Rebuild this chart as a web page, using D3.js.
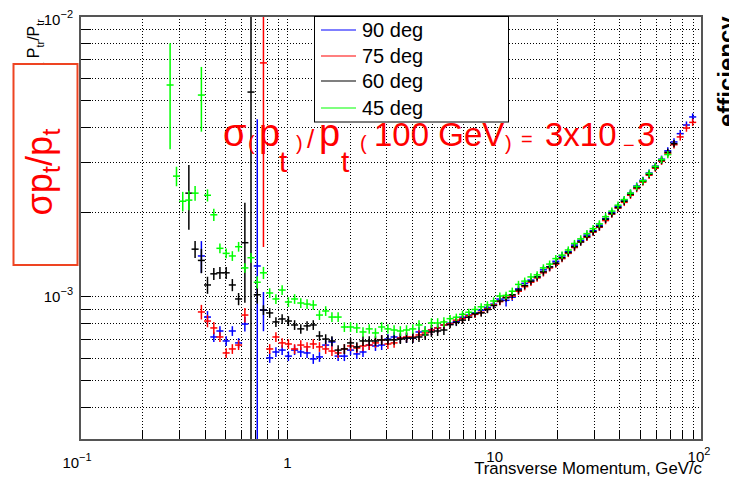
<!DOCTYPE html>
<html><head><meta charset="utf-8">
<script src="https://cdn.jsdelivr.net/npm/d3@7"></script>
<style>
body{margin:0;background:#fff}
text{font-family:"Liberation Sans",Arial,Helvetica,sans-serif}
</style>
</head><body>
<svg id="chart" width="729" height="478"></svg>
<script>
// ---------- DATA ----------
// transverse momentum bin centres (GeV/c)
const pt = [0.272,0.292,0.313,0.335,0.359,0.385,0.412,0.442,0.473,0.507,
0.543,0.582,0.624,0.668,0.716,0.767,0.822,0.881,0.944,1.012,
1.084,1.161,1.245,1.334,1.429,1.531,1.641,1.758,1.884,2.018,
2.163,2.317,2.483,2.661,2.851,3.055,3.273,3.508,3.758,4.027,
4.315,4.624,4.955,5.309,5.689,6.095,6.531,6.998,7.499,8.035,
8.610,9.226,9.886,10.59,11.35,12.16,13.03,13.96,14.96,16.03,
17.18,18.41,19.72,21.13,22.65,24.27,26.00,27.86,29.85,31.99,
34.28,36.73,39.36,42.17,45.19,48.42,51.88,55.59,59.57,63.83,
68.39,73.28,78.52,84.14,90.16,96.6];

// sigma(pt)/pt in units of 1e-3 ; errors in percent of value
const deg90 = [null,null,null,null,null,1.39,0.841,0.714,0.750,0.691,0.750,0.680,0.794,null,1.28,0.891,
0.601,0.631,0.641,0.610,0.641,0.631,0.626,0.596,0.606,0.668,
0.685,0.610,0.610,0.641,0.621,0.631,0.668,0.663,0.668,0.702,
0.714,0.708,0.708,0.708,0.744,0.750,0.756,0.769,0.788,
0.80,0.81,0.84,0.855,0.87,0.89,0.91,0.935,0.975,0.965,0.99,1.06,1.11,1.14,1.17,1.24,1.27,1.33,1.39,1.44,1.52,1.58,1.65,1.71,1.79,
1.89,1.99,2.09,2.20,2.33,2.47,2.59,2.75,2.91,3.08,3.30,3.55,3.80,4.08,4.36,null];
const deg90Err = [0,0,0,0,0,13,5,4,4,4,4,4,6,0,234,16,
4,4,4,4,4,4,4,4,4,4,4,4,4,4,4,4,4,4,4,4,4,4,4,4,4,4,4,4,4,
3,3,3,3,3,3,3,3,3,5,3,3,3,3,3,3,3,3,3,3,3,3,3,3,3,
3,3,3,3,3,3,3,3,3,3,3,3,3,3,3,0];

const deg75 = [null,null,null,null,null,0.877,0.814,0.769,0.714,0.626,0.647,0.668,0.855,null,null,6.80,
0.647,0.714,0.680,0.674,0.647,0.668,0.658,0.674,0.658,0.647,
0.636,0.626,0.647,0.663,0.652,0.663,0.668,0.680,0.697,0.674,
0.680,0.708,0.714,0.714,0.726,0.738,0.756,0.769,0.788,
0.795,0.82,0.83,0.85,0.86,0.875,0.90,0.93,0.955,0.99,1.00,1.04,1.08,1.12,1.16,1.21,1.26,1.30,1.36,1.42,1.49,1.56,1.62,1.69,1.76,
1.86,1.96,2.06,2.16,2.29,2.42,2.55,2.70,2.86,3.03,3.22,3.47,3.70,3.98,4.17,null];
const deg75Err = [0,0,0,0,0,6,5,5,4,4,4,4,6,0,0,78,
4,4,4,4,4,4,4,4,4,4,4,4,4,4,4,4,4,4,4,4,4,4,4,4,4,4,4,4,4,
3,3,3,3,3,3,3,3,3,3,3,3,3,3,3,3,3,3,3,3,3,3,3,3,3,
3,3,3,3,3,3,3,3,3,3,3,3,3,3,3,0];

const deg60 = [null,null,null,2.33,1.47,1.34,1.095,1.20,1.21,1.21,1.095,0.976,1.55,5.35,1.01,0.891,
0.870,0.808,0.828,0.814,0.788,0.763,0.782,0.788,0.720,0.702,
0.691,0.641,0.647,0.680,0.658,0.691,0.691,0.691,0.697,0.697,
0.697,0.702,0.708,0.708,0.714,0.726,0.744,0.750,0.756,
0.79,0.805,0.82,0.84,0.865,0.87,0.895,0.925,0.96,0.985,1.01,1.05,1.09,1.13,1.17,1.22,1.27,1.31,1.37,1.43,1.50,1.56,1.63,1.70,1.77,
1.88,1.97,2.07,2.18,2.31,2.44,2.57,2.72,2.88,3.05,3.26,3.50,null,null,null,null];
const deg60Err = [0,0,0,26,7,10,7,5,5,5,5,5,39,115,7,4,
4,4,4,4,4,4,4,4,4,4,4,4,4,4,4,4,4,4,4,4,4,4,4,4,4,4,4,4,4,
3,3,3,3,3,3,3,3,3,3,3,3,3,3,3,3,3,3,3,3,3,3,3,3,3,
3,3,3,3,3,3,3,3,3,3,3,3,0,0,0,0];

const deg45 = [5.67,2.68,2.18,2.20,2.33,5.22,2.29,1.95,1.48,1.42,1.39,1.50,1.26,1.37,1.12,1.21,
1.025,0.976,1.05,0.952,0.976,0.944,0.936,0.929,0.855,0.884,
0.841,0.841,0.775,0.775,0.769,0.744,0.763,0.738,0.775,0.763,
0.756,0.750,0.756,0.763,0.788,0.750,0.801,0.801,0.808,
0.83,0.84,0.86,0.875,0.895,0.915,0.93,0.96,1.00,1.005,1.04,1.10,1.13,1.17,1.19,1.26,1.30,1.36,1.40,1.46,1.54,1.60,1.67,1.74,1.81,
1.92,2.01,2.11,2.21,2.33,2.46,2.58,2.74,2.90,3.07,3.20,null,null,null,null,null];
const deg45Err = [41,8,8,8,6,26,5,5,4,4,4,4,4,4,5,5,
4,4,4,4,4,4,4,4,4,4,4,4,4,4,4,4,4,4,4,4,4,4,4,4,4,4,4,4,4,
3,3,3,3,3,3,3,3,3,3,3,3,3,3,3,3,3,3,3,3,3,3,3,3,3,
3,3,3,3,3,3,3,3,3,3,3,0,0,0,0,0];

const legendNames = ["90 deg","75 deg","60 deg","45 deg"];
const xGridValues = [0.2,0.3,0.4,0.5,0.6,0.7,0.8,0.9,1,2,3,4,5,6,7,8,9,10,20,30,40,50,60,70,80,90];
const yGridValues = [4e-4,5e-4,6e-4,7e-4,8e-4,9e-4,1e-3,2e-3,3e-3,4e-3,5e-3,6e-3,7e-3,8e-3,9e-3];
const xTickLabels = [{v:0.1,b:"10",e:"\u22121"},{v:1,b:"1",e:""},{v:10,b:"10",e:""},{v:100,b:"10",e:"2"}];
const yTickLabels = [{v:1e-3,b:"10",e:"\u22123"},{v:1e-2,b:"10",e:"\u22122"}];

// ---------- LAYOUT ----------
const L=80, R=702, T=16, B=440;
const svg = d3.select("#chart");
const x = d3.scaleLog().domain([0.1,100]).range([L,R]);
const y = d3.scaleLog().domain([3.06e-4,1e-2]).range([B,T]);
const px = v => Math.round(v)+0.5;

svg.append("rect").attr("width",729).attr("height",478).attr("fill","#fff");
svg.append("defs").append("clipPath").attr("id","clip")
  .append("rect").attr("x",L).attr("y",T).attr("width",R-L).attr("height",B-T);

// grid
const grid = svg.append("g").attr("stroke","#000").attr("stroke-width",1).attr("stroke-dasharray","1,2");
xGridValues.forEach(v=>{
  grid.append("line").attr("x1",px(x(v))).attr("x2",px(x(v))).attr("y1",T).attr("y2",B);
});
yGridValues.forEach(v=>{
  grid.append("line").attr("x1",L).attr("x2",R).attr("y1",px(y(v))).attr("y2",px(y(v)));
});

// ticks
const ticks = svg.append("g").attr("stroke","#000").attr("stroke-width",1);
xGridValues.forEach(v=>{
  ticks.append("line").attr("x1",px(x(v))).attr("x2",px(x(v))).attr("y1",B).attr("y2",B-9);
});
yGridValues.forEach(v=>{
  ticks.append("line").attr("x1",L).attr("x2",L+11).attr("y1",px(y(v))).attr("y2",px(y(v)));
});

// data
const plot = svg.append("g").attr("clip-path","url(#clip)");
const xHalf = 0.017;
function drawSeries(vals, errs, color){
  const g = plot.append("g").attr("stroke",color).attr("stroke-width",1.5);
  vals.forEach((v,i)=>{
    if(v==null) return;
    const val = v*1e-3, e = val*errs[i]/100;
    const cx = x(pt[i]), cy = y(val);
    const top = y(val+e);
    const lo = val-e;
    const bot = lo>1e-5 ? y(lo) : B+5;
    g.append("line").attr("x1",cx).attr("x2",cx).attr("y1",top).attr("y2",bot);
    g.append("line").attr("x1",x(pt[i]/Math.pow(10,xHalf))).attr("x2",x(pt[i]*Math.pow(10,xHalf)))
      .attr("y1",cy).attr("y2",cy);
  });
}
const seriesList = [
  {v:deg90,e:deg90Err,c:"#0000ff"},
  {v:deg75,e:deg75Err,c:"#ff0000"},
  {v:deg60,e:deg60Err,c:"#000000"},
  {v:deg45,e:deg45Err,c:"#00ff00"}
];
seriesList.forEach(s=>drawSeries(s.v,s.e,s.c));

// frame
svg.append("rect").attr("x",L).attr("y",T).attr("width",R-L).attr("height",B-T)
  .attr("fill","none").attr("stroke","#555").attr("stroke-width",2);

// axis tick labels
xTickLabels.forEach(t=>{
  const big = (t.v===10||t.v===100);
  const tx = svg.append("text").attr("x",x(t.v)-(t.e?3:0)).attr("y",big?462:468)
    .attr("text-anchor","middle").attr("font-size",15).attr("fill","#000");
  tx.append("tspan").text(t.b);
  if(t.e) tx.append("tspan").attr("dy",-7).attr("font-size",11).text(t.e);
});
yTickLabels.forEach(t=>{
  const ty = svg.append("text").attr("x",73).attr("y",y(t.v)+(t.v===1e-2?9:6))
    .attr("text-anchor","end").attr("font-size",15).attr("fill","#000");
  ty.append("tspan").text(t.b);
  ty.append("tspan").attr("dy",-7).attr("font-size",11).text(t.e);
});

// axis titles
svg.append("text").attr("x",R).attr("y",474).attr("text-anchor","end")
  .attr("font-size",16.8).text("Transverse Momentum, GeV/c");
const yt = svg.append("text").attr("transform","translate(39,19) rotate(-90)")
  .attr("text-anchor","end").attr("font-size",16);
yt.append("tspan").text("\u03c3");
yt.append("tspan").attr("dy",5).attr("font-size",11).text("t");
yt.append("tspan").attr("dy",-5).text(" P");
yt.append("tspan").attr("dy",5).attr("font-size",11).text("tr");
yt.append("tspan").attr("dy",-5).text("/P");
yt.append("tspan").attr("dy",5).attr("font-size",11).text("tr");

// right side label
svg.append("text").attr("transform","translate(735,127) rotate(-90)")
  .attr("font-size",24).attr("font-weight","bold").text("efficiency");

// red box with sigma pt / pt
svg.append("rect").attr("x",13.5).attr("y",64).attr("width",64).attr("height",201)
  .attr("fill","#fff").attr("stroke","#ee4422").attr("stroke-width",2);
const bt = svg.append("text").attr("transform","translate(52,172) rotate(-90)")
  .attr("text-anchor","middle").attr("font-size",36).attr("fill","#ff0000");
bt.append("tspan").text("\u03c3p");
bt.append("tspan").attr("dy",8).attr("font-size",26).text("t");
bt.append("tspan").attr("dy",-8).text("/p");
bt.append("tspan").attr("dy",8).attr("font-size",26).text("t");

// legend
const lg = svg.append("g");
lg.append("rect").attr("x",314.5).attr("y",16.5).attr("width",194).attr("height",105.5)
  .attr("fill","#fff").attr("stroke","#000").attr("stroke-width",1);
const legYs = [30,56,81,108];
legendNames.forEach((n,i)=>{
  lg.append("line").attr("x1",321).attr("x2",356).attr("y1",legYs[i]).attr("y2",legYs[i])
    .attr("stroke",seriesList[i].c).attr("stroke-width",1.2);
  lg.append("text").attr("x",362).attr("y",legYs[i]+7).attr("font-size",20).text(n);
});

// red annotation (TLatex-like)
const annot = [
  {t:"\u03c3",s:38,x:223,y:146},
  {t:"(",s:20,x:248,y:150},
  {t:"p",s:38,x:259,y:146},
  {t:"t",s:30,x:279,y:172},
  {t:")",s:20,x:296,y:150},
  {t:"/",s:26,x:307,y:148},
  {t:"p",s:38,x:319,y:146},
  {t:"t",s:30,x:341,y:172},
  {t:"(",s:20,x:360,y:150},
  {t:"100 GeV",s:33,x:374,y:146},
  {t:")",s:20,x:505,y:150},
  {t:"=",s:20,x:521,y:146},
  {t:"3x10",s:33,x:545,y:146},
  {t:"\u2212",s:20,x:623,y:152},
  {t:"3",s:33,x:637,y:146}
];
const ag = svg.append("g").attr("fill","#ff0000");
annot.forEach(a=>ag.append("text").attr("x",a.x).attr("y",a.y).attr("font-size",a.s).text(a.t));
</script>
</body></html>
